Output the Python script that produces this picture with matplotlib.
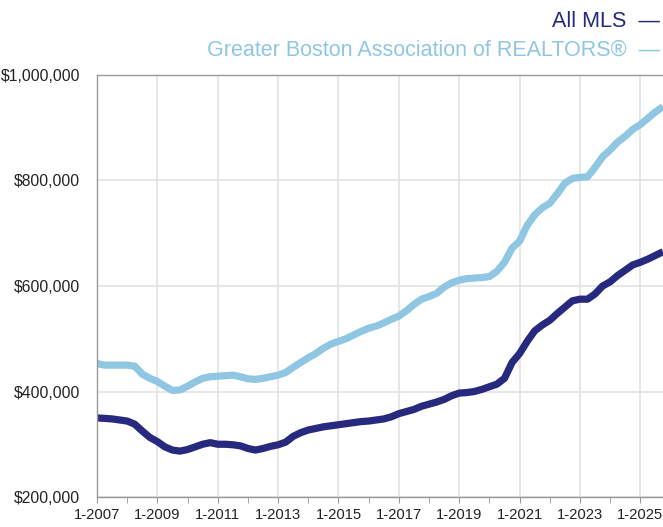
import numpy as np
import pandas as pd
import matplotlib.pyplot as plt
from matplotlib.ticker import FuncFormatter, MultipleLocator, FixedLocator

plt.rcParams['font.family'] = ['Liberation Sans', 'DejaVu Sans']

# quarterly points, 1-2007 .. 10-2025 (rolling 12-month median sales price, $)
quarters = pd.period_range('2007Q1', '2025Q4', freq='Q')
x = quarters.year + (quarters.quarter - 1) / 4.0

all_mls = [350, 349, 348, 346, 344, 338, 325, 313, 305, 295, 289, 287,
           290, 295, 300, 303, 300, 300, 299, 297, 292, 289, 292, 296,
           299, 304, 315, 322, 327, 330, 333, 335, 337, 339, 341, 343,
           344, 346, 348, 352, 358, 362, 366, 372, 376, 380, 385, 392,
           397, 398, 400, 404, 409, 414, 425, 455, 472, 495, 515, 526,
           535, 548, 560, 572, 575, 575, 585, 600, 608, 620, 630, 640,
           645, 651, 658, 665]
gbar = [453, 450, 450, 450, 450, 448, 433, 425, 419, 410, 402, 403,
        410, 418, 425, 428, 429, 430, 431, 428, 424, 423, 425, 428,
        431, 436, 446, 455, 464, 472, 482, 490, 495, 500, 507, 514,
        520, 524, 530, 537, 543, 553, 565, 575, 580, 586, 598, 606,
        611, 614, 615, 616, 618, 628, 645, 672, 685, 715, 735, 748,
        757, 775, 795, 804, 806, 807, 825, 845, 858, 873, 884, 897,
        906, 918, 930, 940]
label_years = list(range(2007, 2026, 2))
all_mls = np.array(all_mls) * 1000
gbar = np.array(gbar) * 1000

navy = '#27297e'
light = '#8fc7e3'

fig = plt.figure(figsize=(6.63, 5.27), dpi=100)
ax = fig.add_axes([97 / 663, 30 / 527, 566 / 663, 422 / 527])

ax.plot(x, gbar, color=light, lw=5.2, solid_capstyle='butt', solid_joinstyle='round')
ax.plot(x, all_mls, color=navy, lw=5.2, solid_capstyle='butt', solid_joinstyle='round')

ax.set_xlim(2007, 2025.75)
ax.set_ylim(200000, 1000000)

ax.xaxis.set_major_locator(FixedLocator(label_years))
ax.xaxis.set_minor_locator(MultipleLocator(1))
ax.xaxis.set_major_formatter(FuncFormatter(lambda v, p: '1-%d' % round(v)))
ax.yaxis.set_major_locator(MultipleLocator(200000))
ax.yaxis.set_major_formatter(FuncFormatter(lambda v, p: '${:,.0f}'.format(v)))

ax.grid(True, which='major', color='#e3e3e3', lw=1.2)
ax.set_axisbelow(True)
ax.tick_params(axis='y', length=0, pad=12, labelsize=11.3, labelcolor='#222222')
ax.tick_params(axis='x', which='both', length=4, color='#999999', pad=4,
               labelsize=10.6, labelcolor='#222222')

for s in ['left', 'bottom', 'top']:
    ax.spines[s].set_color('#999999')
    ax.spines[s].set_linewidth(1)
ax.spines['right'].set_visible(False)

fig.text(0.995, 1 - 27 / 527, 'All MLS  \u2014', ha='right', va='baseline',
         color=navy, fontsize=15.5)
fig.text(0.995, 1 - 56 / 527, 'Greater Boston Association of REALTORS\u00ae  \u2014',
         ha='right', va='baseline', color=light, fontsize=15.5)

fig.savefig('out.png', dpi=100)
